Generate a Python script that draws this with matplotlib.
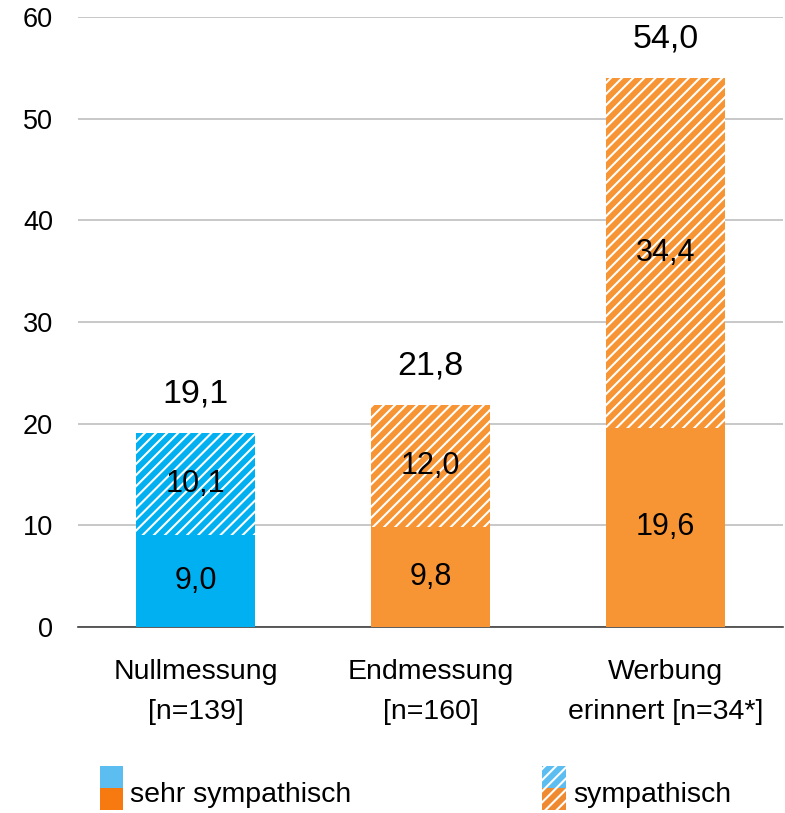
import matplotlib
matplotlib.use("Agg")
import matplotlib.pyplot as plt
from matplotlib.patches import Rectangle

plt.rcParams['font.family'] = ['Liberation Sans', 'DejaVu Sans']
plt.rcParams['hatch.linewidth'] = 1.5

categories = ["Nullmessung\n[n=139]", "Endmessung\n[n=160]", "Werbung\nerinnert [n=34*]"]
sehr_sympathisch = [9.0, 9.8, 19.6]
sympathisch = [10.1, 12.0, 34.4]
totals = [19.1, 21.8, 54.0]
bar_colors = ["#00B0F0", "#F79433", "#F79433"]
legend_labels = ["sehr sympathisch", "sympathisch"]

fig = plt.figure(figsize=(7.85, 8.13), dpi=100)
ax = fig.add_axes([0.0994, 0.2288, 0.898, 0.7502])

x = list(range(len(categories)))
width = 0.505
ax.bar(x, sehr_sympathisch, width, color=bar_colors, linewidth=0, zorder=3)
ax.bar(x, sympathisch, width, bottom=sehr_sympathisch, color=bar_colors,
       edgecolor="white", hatch="///", linewidth=0, zorder=3)

fmt = lambda v: f"{v:.1f}".replace(".", ",")
for xi, a, b, t in zip(x, sehr_sympathisch, sympathisch, totals):
    ax.text(xi, a / 2, fmt(a), ha="center", va="center", fontsize=22, zorder=5)
    ax.text(xi, a + b / 2, fmt(b), ha="center", va="center", fontsize=22, zorder=5)
    ax.annotate(fmt(t), (xi, a + b), xytext=(0, 22), textcoords="offset points",
                ha="center", va="baseline", fontsize=24.5)

ax.set_xlim(-0.5, 2.5)
ax.set_ylim(0, 60)
ax.set_yticks(range(0, 61, 10))
ax.yaxis.grid(True, color="#BFBFBF", linewidth=1.2, zorder=0)
ax.set_axisbelow(True)
for s in ["top", "right", "left"]:
    ax.spines[s].set_visible(False)
ax.spines["bottom"].set_color("#404040")
ax.spines["bottom"].set_linewidth(1.2)
ax.set_xticks(x)
ax.set_xticklabels(categories, fontsize=20.5, linespacing=1.68)
ax.tick_params(axis="x", length=0, pad=23)
ax.tick_params(axis="y", length=0, labelsize=19.5, pad=18)

# legend drawn manually in figure coordinates
W, H = 785.0, 813.0
def frect(x0, y0, w, h, **kw):
    fig.add_artist(Rectangle((x0 / W, 1 - (y0 + h) / H), w / W, h / H,
                             transform=fig.transFigure, linewidth=0, **kw))

frect(100, 766, 23, 22, facecolor="#5BBDF0")
frect(100, 788, 23, 22, facecolor="#F77A10")
frect(542, 766, 24, 22, facecolor="#5BBDF0", edgecolor="white", hatch="///")
frect(542, 788, 24, 22, facecolor="#F08A30", edgecolor="white", hatch="///")
fig.text(130 / W, 1 - 795 / H, legend_labels[0], fontsize=20.5, va="center", ha="left")
fig.text(573 / W, 1 - 795 / H, legend_labels[1], fontsize=20.5, va="center", ha="left")

fig.savefig("out.png", dpi=100)
